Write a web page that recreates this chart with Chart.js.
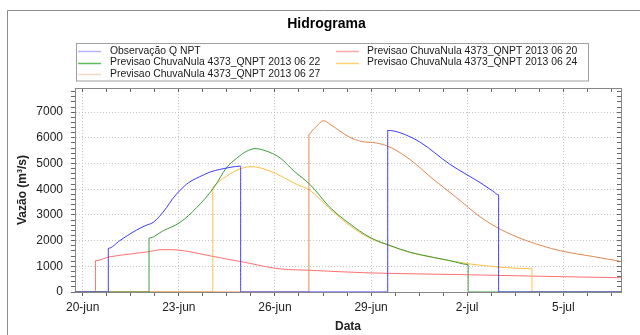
<!DOCTYPE html>
<html>
<head>
<meta charset="utf-8">
<script src="https://cdn.jsdelivr.net/npm/chart.js@4.4.1/dist/chart.umd.min.js"></script>
<style>
    html, body { margin: 0; padding: 0; background: #fff; }
    canvas { display: block; }
</style>
</head>
<body>
<canvas id="hidrograma" width="640" height="335"></canvas>
<script>
// days counted from 20-jun (0 = 20-jun 00h)
const xTickDays = [0, 3, 6, 9, 12, 15];
const xTickLabels = ['20-jun', '23-jun', '26-jun', '29-jun', '2-jul', '5-jul'];
const yTickValues = [0, 1000, 2000, 3000, 4000, 5000, 6000, 7000];
const yTickLabels = ['0', '1000', '2000', '3000', '4000', '5000', '6000', '7000'];

const seriesNames = [
    'Observação Q NPT',
    'Previsao ChuvaNula 4373_QNPT 2013 06 20',
    'Previsao ChuvaNula 4373_QNPT 2013 06 22',
    'Previsao ChuvaNula 4373_QNPT 2013 06 24',
    'Previsao ChuvaNula 4373_QNPT 2013 06 27'
];

const obsDays = [-0.24, 0.80, 0.80, 1.16, 1.40, 1.68, 1.95, 2.20, 2.40, 2.62, 2.80, 3.04, 3.30, 3.76, 4.00, 4.28, 4.60, 4.93, 4.93,
    9.52, 9.52, 9.90, 10.52, 11.46, 12.40, 12.80, 12.98, 12.98, 16.80];
const obsFlow = [0, 0, 1700, 2000, 2200, 2410, 2580, 2710, 2950, 3290, 3620, 3960, 4250, 4550, 4680, 4770, 4850, 4900, 0,
    0, 6290, 6200, 5840, 4970, 4260, 3930, 3780, 0, 0];

const prev20Days = [-0.24, 0.40, 0.40, 0.85, 1.50, 2.00, 2.50, 3.00, 3.50, 4.00, 4.60, 5.20, 5.70, 6.20, 7.10, 8.00, 8.80, 10.20, 12.10, 14.00, 15.50, 16.80];
const prev20Flow = [0, 0, 1220, 1370, 1480, 1560, 1650, 1630, 1530, 1400, 1260, 1120, 990, 895, 845, 790, 750, 710, 670, 620, 585, 555];

const prev22Days = [-0.24, 2.07, 2.07, 2.52, 3.04, 3.56, 4.08, 4.49, 4.80, 5.12, 5.38, 5.70, 6.16, 6.60, 7.09, 7.72, 8.34, 8.96, 9.59, 10.21, 10.94, 11.50, 12.03, 12.03, 16.80];
const prev22Flow = [0, 0, 2100, 2390, 2710, 3290, 4040, 4840, 5200, 5480, 5580, 5500, 5220, 4700, 4190, 3290, 2650, 2130, 1810, 1550, 1350, 1210, 1070, 0, 0];

const prev24Days = [-0.24, 4.06, 4.06, 4.20, 4.49, 4.85, 5.25, 5.84, 6.68, 7.09, 7.72, 8.34, 8.96, 9.59, 10.21, 10.94, 12.03, 13.02, 14.02, 14.02, 16.80];
const prev24Flow = [0, 0, 4080, 4250, 4510, 4760, 4880, 4710, 4190, 3960, 3230, 2580, 2100, 1800, 1540, 1340, 1100, 970, 905, 0, 0];

const prev27Days = [-0.24, 7.06, 7.06, 7.15, 7.30, 7.51, 7.75, 8.03, 8.34, 8.70, 9.17, 9.59, 10.21, 10.94, 11.67, 12.40, 13.02, 13.85, 14.89, 15.93, 16.80];
const prev27Flow = [0, 0, 6130, 6260, 6450, 6670, 6500, 6260, 6020, 5860, 5800, 5640, 5160, 4390, 3670, 2930, 2450, 2000, 1610, 1380, 1190];

const lineColors = ['#3c3cff', '#ff7070', '#3c9c3c', '#ffbf40', '#e0874e'];
const legendColors = ['#b4b4ff', '#ffa8a8', '#5cbc5c', '#ffd070', '#f6d6c2'];

const X_MIN = -0.24, X_MAX = 16.8, Y_MAX = 7940;

const toPoints = (days, flow) => days.map((d, i) => ({x: d, y: flow[i]}));

const xMinorTicks = () => {
    const t = [];
    for (let d = 0; d <= X_MAX; d += 0.75) t.push({value: d});
    return t;
};
const yMinorTicks = () => {
    const t = [];
    for (let v = 0; v <= Y_MAX; v += 200) t.push({value: v});
    return t;
};

Chart.defaults.font.family = "'Liberation Sans', Arial, sans-serif";
Chart.defaults.color = '#222';

// white background + grey outer frame
const framePlugin = {
    id: 'frame',
    beforeDraw(chart) {
        const ctx = chart.ctx;
        ctx.save();
        ctx.fillStyle = '#fff';
        ctx.fillRect(0, 0, chart.width, chart.height);
        ctx.strokeStyle = '#8c8c8c';
        ctx.lineWidth = 1;
        ctx.beginPath();
        ctx.moveTo(7.5, chart.height);
        ctx.lineTo(7.5, 10.5);
        ctx.lineTo(chart.width, 10.5);
        ctx.stroke();
        ctx.restore();
    }
};

// legend in a box, two columns
const boxLegend = {
    id: 'boxLegend',
    afterDraw(chart) {
        const ctx = chart.ctx;
        ctx.save();
        ctx.fillStyle = '#fff';
        ctx.fillRect(76.5, 43.5, 512, 37.5);
        ctx.strokeStyle = '#a0a0a0';
        ctx.lineWidth = 1;
        ctx.strokeRect(76.5, 43.5, 512, 37.5);
        ctx.font = "10.4px 'Liberation Sans', Arial, sans-serif";
        ctx.textBaseline = 'middle';
        chart.data.datasets.forEach((ds, i) => {
            const col = i % 2, row = Math.floor(i / 2);
            const lx = col === 0 ? 78 : 336;
            const tx = col === 0 ? 110 : 367;
            const y = 51 + row * 11.5;
            ctx.strokeStyle = legendColors[i];
            ctx.lineWidth = 1.5;
            ctx.beginPath();
            ctx.moveTo(lx, Math.round(y) + 0.5);
            ctx.lineTo(lx + 23, Math.round(y) + 0.5);
            ctx.stroke();
            ctx.fillStyle = '#1a1a1a';
            ctx.fillText(ds.label, tx, y);
        });
        ctx.restore();
    }
};

const drawOrder = [0, 4, 1, 3, 2];

new Chart(document.getElementById('hidrograma'), {
    type: 'line',
    data: {
        datasets: [
            toPoints(obsDays, obsFlow),
            toPoints(prev20Days, prev20Flow),
            toPoints(prev22Days, prev22Flow),
            toPoints(prev24Days, prev24Flow),
            toPoints(prev27Days, prev27Flow)
        ].map((pts, i) => ({
            label: seriesNames[i],
            data: pts,
            borderColor: lineColors[i],
            backgroundColor: lineColors[i],
            borderWidth: 1,
            pointRadius: 0,
            cubicInterpolationMode: 'monotone',
            fill: false,
            order: drawOrder[i]
        }))
    },
    options: {
        responsive: false,
        animation: false,
        layout: {padding: {left: 13, right: 0, top: 0, bottom: 0}},
        plugins: {
            legend: {display: false},
            tooltip: {enabled: false},
            title: {
                display: true,
                text: 'Hidrograma',
                color: '#000',
                font: {size: 14, weight: 'bold'},
                padding: {top: 16, bottom: 51.2}
            }
        },
        scales: {
            x: {
                type: 'linear',
                position: 'bottom',
                min: X_MIN,
                max: X_MAX,
                afterBuildTicks: (scale) => { scale.ticks = xMinorTicks(); },
                afterFit: (scale) => { scale.height = 43; },
                ticks: {
                    autoSkip: false,
                    maxRotation: 0,
                    padding: 4,
                    color: '#222',
                    font: {size: 12},
                    callback: (v) => {
                        const k = xTickDays.indexOf(v);
                        return k >= 0 ? xTickLabels[k] : '';
                    }
                },
                grid: {
                    color: (c) => c.tick && xTickDays.includes(c.tick.value) ? '#c4c4c4' : 'rgba(0,0,0,0)',
                    tickColor: '#666',
                    tickLength: 4
                },
                border: {color: '#888', dash: [1, 2]},
                title: {
                    display: true,
                    text: 'Data',
                    color: '#222',
                    font: {size: 12, weight: 'bold'},
                    padding: {top: 0, bottom: 1}
                }
            },
            x2: {
                type: 'linear',
                position: 'top',
                min: X_MIN,
                max: X_MAX,
                afterBuildTicks: (scale) => { scale.ticks = xMinorTicks(); },
                afterFit: (scale) => { scale.height = 4; },
                ticks: {display: false},
                grid: {drawOnChartArea: false, tickColor: '#666', tickLength: -4},
                border: {color: '#888'}
            },
            y: {
                type: 'linear',
                position: 'left',
                min: 0,
                max: Y_MAX,
                afterBuildTicks: (scale) => { scale.ticks = yMinorTicks(); },
                afterFit: (scale) => { scale.width = 62; },
                ticks: {
                    autoSkip: false,
                    padding: 8,
                    color: '#222',
                    font: {size: 12},
                    callback: (v) => {
                        const k = yTickValues.indexOf(v);
                        return k >= 0 ? yTickLabels[k] : '';
                    }
                },
                grid: {
                    color: (c) => c.tick && yTickValues.includes(c.tick.value) ? '#c4c4c4' : 'rgba(0,0,0,0)',
                    tickColor: '#666',
                    tickLength: 4
                },
                border: {color: '#888', dash: [1, 2]},
                title: {
                    display: true,
                    text: 'Vazão (m³/s)',
                    color: '#222',
                    font: {size: 12, weight: 'bold'},
                    padding: {top: 2, bottom: 0}
                }
            },
            y2: {
                type: 'linear',
                position: 'right',
                min: 0,
                max: Y_MAX,
                afterBuildTicks: (scale) => { scale.ticks = yMinorTicks(); },
                afterFit: (scale) => { scale.width = 19; },
                ticks: {display: false},
                grid: {drawOnChartArea: false, tickColor: '#666', tickLength: -4},
                border: {color: '#888'}
            }
        }
    },
    plugins: [framePlugin, boxLegend]
});
</script>
</body>
</html>
